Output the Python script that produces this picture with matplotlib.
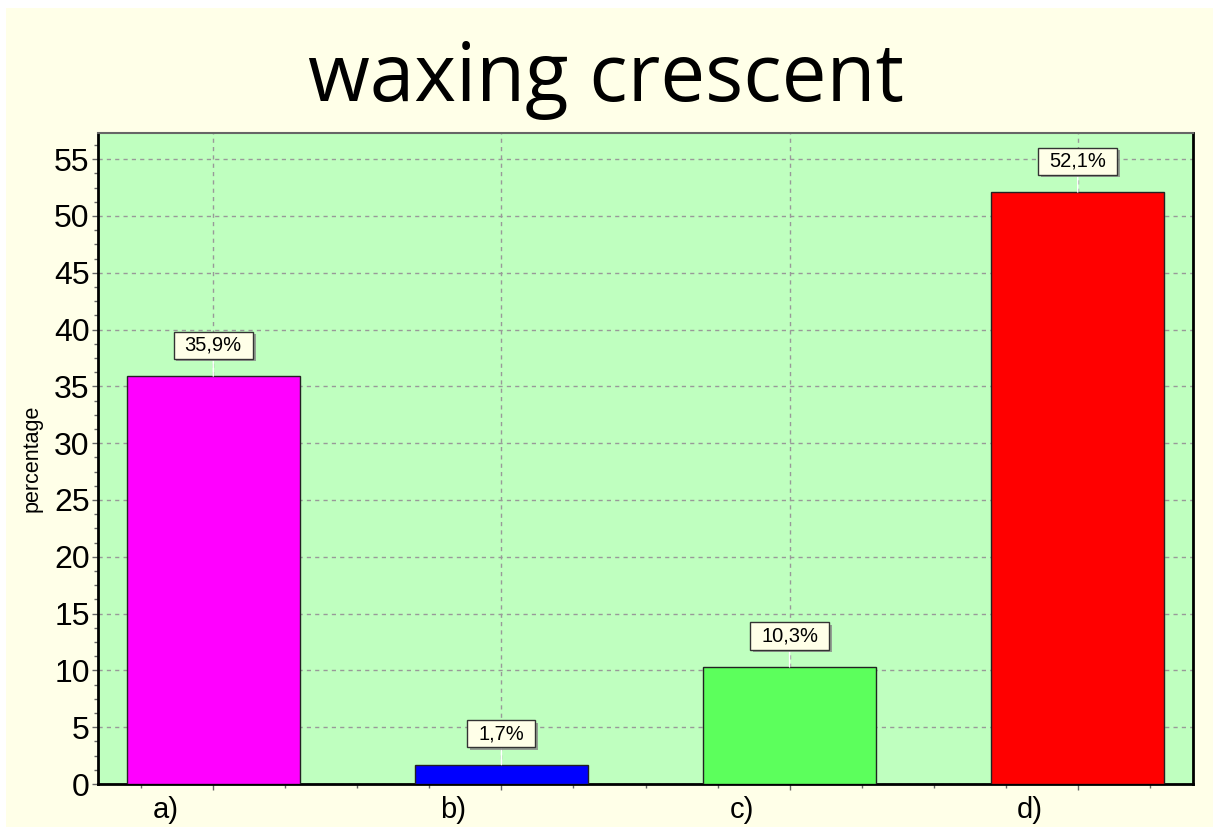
import matplotlib
matplotlib.use("Agg")
import matplotlib.pyplot as plt
import matplotlib.patheffects as pe
from matplotlib.patches import Rectangle
from matplotlib.path import Path
from matplotlib.ticker import MultipleLocator

categories = ["a)", "b)", "c)", "d)"]
values = [35.9, 1.7, 10.3, 52.1]
labels = ["35,9%", "1,7%", "10,3%", "52,1%"]
colors = ["#FF00FF", "#0000FF", "#5CFF5C", "#FF0000"]
title = "waxing crescent"
ylabel = "percentage"

W, H = 1213, 827
PX = 72 / 100  # points per pixel
fig = plt.figure(figsize=(W / 100, H / 100), dpi=100, facecolor="white")
fig.patches.append(Rectangle((6 / W, 0), 1 - 6 / W, 1 - 8 / H, transform=fig.transFigure,
                             facecolor="#FFFFE8", edgecolor="none", zorder=-10))

ax = fig.add_axes([98 / W, 1 - 784 / H, (1193 - 98) / W, (784 - 133) / H])
ax.set_facecolor("#BFFFBF")

x = list(range(len(categories)))
ax.bar(x, values, width=0.6, color=colors, edgecolor="#222222", linewidth=1, zorder=3)

ax.set_xlim(-0.4, 3.4)
ax.set_ylim(0, 57.3)
ax.set_xticks(x)
ax.set_xticklabels([""] * len(x))
ax.yaxis.set_major_locator(MultipleLocator(5))
ax.yaxis.set_minor_locator(MultipleLocator(1.25))
ax.xaxis.set_minor_locator(MultipleLocator(0.25))
for lab in ax.get_yticklabels():
    lab.set_fontfamily("Liberation Sans")
    lab.set_fontsize(23)
ax.tick_params(axis="both", which="both", direction="out", color="#666666")
ax.tick_params(axis="both", which="major", length=4, width=1, pad=2)
ax.tick_params(axis="both", which="minor", length=3, width=1)

# category labels (drawn left of the category centre, as in the reference)
for xi, cat in zip(x, categories):
    ax.annotate(cat, xy=(xi, 0), xycoords=("data", "axes fraction"),
                xytext=(-48 * PX, -26 * PX), textcoords="offset points",
                ha="center", va="center", fontsize=21, family="Liberation Sans",
                annotation_clip=False)

ax.grid(True, which="major", color="#999999", linestyle=(0, (3, 3)), linewidth=1, zorder=0)
ax.set_axisbelow(True)

for s in ["left", "bottom", "right"]:
    ax.spines[s].set_color("#000000")
    ax.spines[s].set_linewidth(2)
ax.spines["top"].set_color("#666666")
ax.spines["top"].set_linewidth(1.5)

ax.set_ylabel(ylabel, fontsize=15.5, family="Liberation Sans", labelpad=8)


def wide_box(x0, y0, width, height, mutation_size):
    padx = 0.55 * mutation_size
    pady = 0.2 * mutation_size
    x0, y0 = x0 - padx, y0 - pady
    x1, y1 = x0 + width + 2 * padx, y0 + height + 2 * pady
    return Path([(x0, y0), (x1, y0), (x1, y1), (x0, y1), (x0, y0)], closed=True)


for xi, v, lab in zip(x, values, labels):
    t = ax.annotate(lab, xy=(xi, v), xytext=(0, 31 * PX), textcoords="offset points",
                    ha="center", va="center", fontsize=14.5, family="Liberation Sans",
                    bbox=dict(boxstyle=wide_box, facecolor="#FFFFE8",
                              edgecolor="#333333", linewidth=1),
                    arrowprops=dict(arrowstyle="-", color="white", lw=1,
                                    shrinkA=0, shrinkB=0),
                    zorder=5)
    t.get_bbox_patch().set_path_effects([
        pe.SimplePatchShadow(offset=(2, -2), shadow_rgbFace="#888888", alpha=0.8),
        pe.Normal()])

fig.text(606 / W, 1 - 80 / H, title, ha="center", va="center",
         fontsize=57.5, family="Open Sans")

fig.savefig("out.png", dpi=100, facecolor=fig.get_facecolor())
